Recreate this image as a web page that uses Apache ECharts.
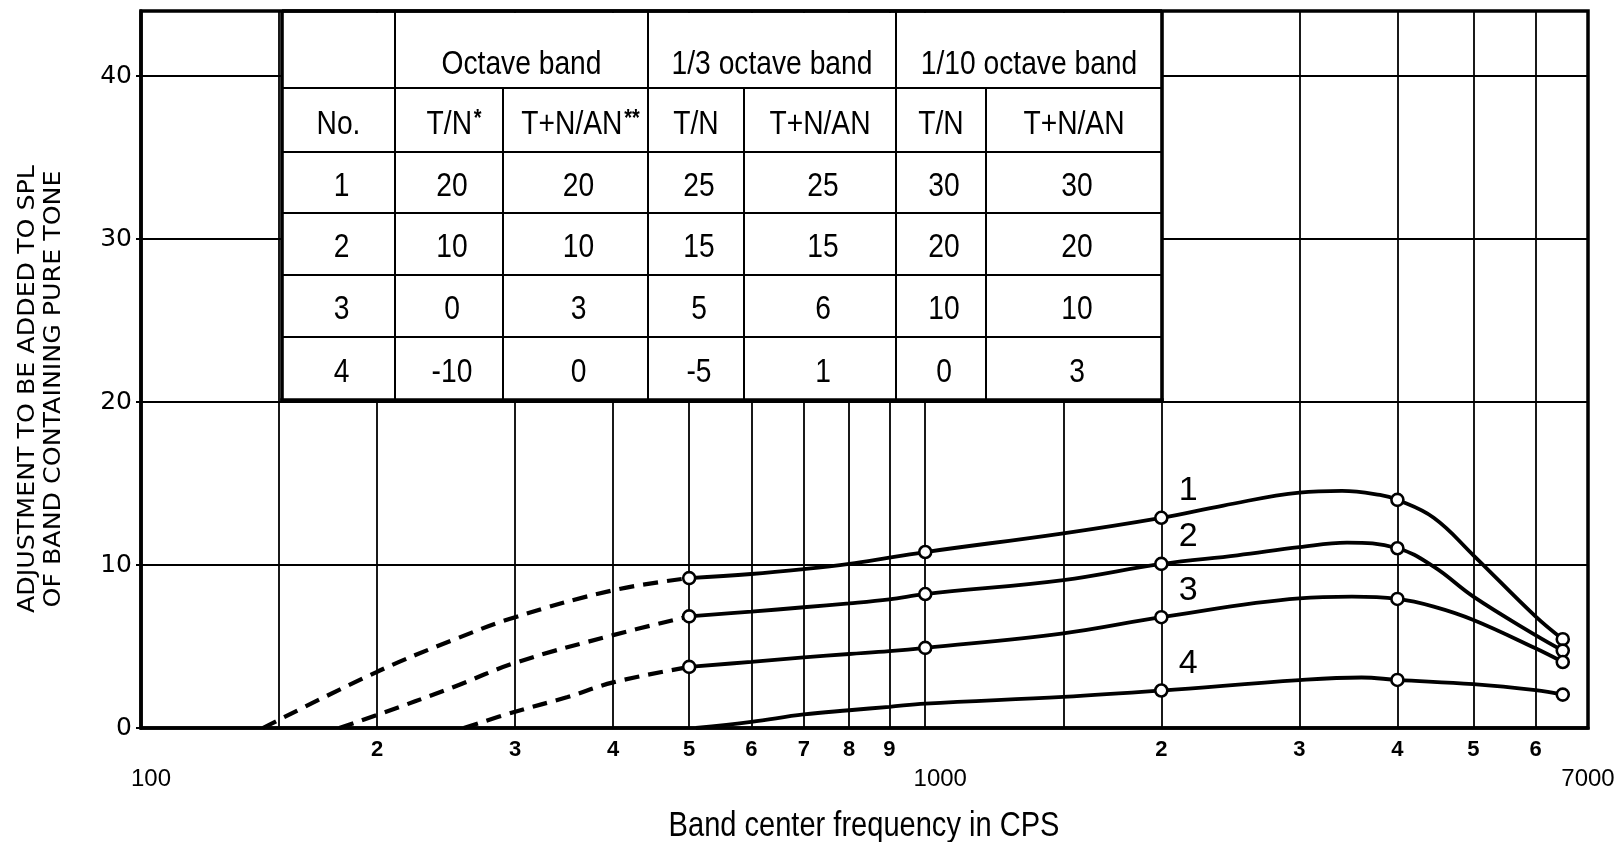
<!DOCTYPE html>
<html>
<head>
<meta charset="utf-8">
<script src="https://cdn.jsdelivr.net/npm/echarts@6/dist/echarts.min.js"></script>
<style>
  html, body { margin: 0; padding: 0; background: #fff; }
  #chart { width: 1616px; height: 842px; }
</style>
</head>
<body>
<div id="chart"></div>
<script>
// ---------- data ----------
// frequency grid (cps) and tick labels on the log axis
const gridFreqs = [150, 200, 300, 400, 500, 600, 700, 800, 900, 1000, 1500, 2000, 3000, 4000, 5000, 6000];
const minorTickFreqs = [200, 300, 400, 500, 600, 700, 800, 900, 2000, 3000, 4000, 5000, 6000];
const minorTickLabels = ['2', '3', '4', '5', '6', '7', '8', '9', '2', '3', '4', '5', '6'];
const decadeTickFreqs = [100, 1000, 7000];
const decadeTickLabels = ['100', '1000', '7000'];
const yTicks = [0, 10, 20, 30, 40];

// curve names and measured points (circles)
const curveNames = ['1', '2', '3', '4'];
const markerFreqs = [500, 1000, 2000, 4000, 6500];
const curve4MarkerFreqs = [2000, 4000, 6500];
const curve1Markers = [9.2, 10.8, 12.9, 14.0, 5.45];
const curve2Markers = [6.85, 8.22, 10.07, 11.03, 4.75];
const curve3Markers = [3.75, 4.92, 6.8, 7.92, 4.05];
const curve4Markers = [2.3, 2.95, 2.05];

// faired curves [frequency, adjustment dB]
const curve1Solid = [[500, 9.2], [600, 9.45], [700, 9.75], [800, 10.07], [900, 10.45], [1000, 10.8], [1500, 11.95], [2000, 12.9], [2400, 13.65], [3000, 14.45], [3400, 14.55], [3800, 14.3], [4000, 14.0], [4450, 12.9], [5000, 10.6], [6000, 6.85], [6500, 5.45]];
const curve2Solid = [[500, 6.85], [600, 7.14], [700, 7.41], [800, 7.65], [900, 7.9], [1000, 8.22], [1500, 9.08], [2000, 10.07], [2500, 10.6], [3000, 11.1], [3450, 11.38], [4000, 11.03], [4450, 9.9], [5000, 8.06], [6000, 5.7], [6500, 4.75]];
const curve3Solid = [[500, 3.75], [600, 4.06], [700, 4.33], [800, 4.54], [900, 4.72], [1000, 4.92], [1500, 5.81], [2000, 6.8], [3000, 7.96], [3500, 8.06], [4000, 7.92], [4450, 7.45], [5000, 6.63], [6000, 4.89], [6500, 4.05]];
const curve4Solid = [[510, 0], [600, 0.38], [700, 0.83], [800, 1.09], [900, 1.3], [1000, 1.5], [1500, 1.91], [2000, 2.3], [3000, 2.94], [3600, 3.1], [4000, 2.95], [5000, 2.69], [6000, 2.32], [6500, 2.05]];

// extrapolated (dashed) low-frequency portions
const curve1Dashed = [[143, 0], [200, 3.45], [250, 5.4], [300, 6.8], [400, 8.45], [500, 9.2]];
const curve2Dashed = [[179, 0], [200, 0.8], [250, 2.5], [300, 4.0], [400, 5.7], [500, 6.85]];
const curve3Dashed = [[258, 0], [300, 1.0], [350, 1.9], [400, 2.8], [500, 3.75]];

// inset table
const tableBands = ['Octave band', '1/3 octave band', '1/10 octave band'];
const tableHeads = ['No.', 'T/N', 'T+N/AN', 'T/N', 'T+N/AN', 'T/N', 'T+N/AN'];
const tableHeadMarks = ['', '*', '**', '', '', '', ''];
const tableRows = [
  ['1', '20', '20', '25', '25', '30', '30'],
  ['2', '10', '10', '15', '15', '20', '20'],
  ['3', '0', '3', '5', '6', '10', '10'],
  ['4', '-10', '0', '-5', '1', '0', '3']
];

// ---------- styling / layout ----------
const NARROW = "'Liberation Sans', 'Arimo', sans-serif";   // drawn with a horizontal squeeze
const SQUEEZE = 0.83;
const WIDE = "'DejaVu Sans', 'Noto Sans', sans-serif";
const INK = '#000';
const decadeNudge = [10, 15, 0];
const tableLayout = { left: 282, top: 11, colW: [113, 108, 145, 96, 152, 90, 176], rowH: [77, 64, 61, 62, 62, 63] };
const Z_TABLE = 30;

const chart = echarts.init(document.getElementById('chart'), null, { renderer: 'canvas' });

function curveLine(data, dashed) {
  return {
    type: 'line', data: data, smooth: 0.4, symbol: 'none', showSymbol: false, clip: false,
    silent: true, z: 3, animation: false,
    lineStyle: { color: '#000', width: dashed ? 4.2 : 3.8, type: dashed ? [15, 9] : 'solid', cap: 'butt', opacity: 1 },
    emphasis: { disabled: true }
  };
}

function markerSeries(name, freqs, vals) {
  return {
    type: 'scatter', name: name, z: 5, silent: true, clip: false, animation: false,
    symbol: 'circle', symbolSize: 12,
    itemStyle: { color: '#fff', borderColor: '#000', borderWidth: 2.6, opacity: 1 },
    data: freqs.map((f, i) => {
      const item = { value: [f, vals[i]] };
      if (f === 2000) {
        item.label = {
          show: true, position: 'inside', offset: [27, -27], formatter: name,
          fontFamily: NARROW, fontSize: 34, color: INK, opacity: 1, textBorderWidth: 0
        };
      }
      return item;
    }),
    emphasis: { disabled: true }
  };
}

function buildTable() {
  const T = tableLayout;
  const els = [];
  const colX = [T.left];
  T.colW.forEach(w => colX.push(colX[colX.length - 1] + w));
  const rowY = [T.top];
  T.rowH.forEach(h => rowY.push(rowY[rowY.length - 1] + h));
  const right = colX[colX.length - 1];
  const bottom = rowY[rowY.length - 1];

  els.push({ type: 'rect', z: Z_TABLE, shape: { x: T.left, y: T.top + 2, width: right - T.left, height: bottom - T.top - 2 }, style: { fill: '#fff' } });
  const line = (x1, y1, x2, y2, w) => els.push({ type: 'line', z: Z_TABLE + 1, shape: { x1, y1, x2, y2 }, style: { stroke: '#000', lineWidth: w } });

  // row rules
  for (let r = 1; r < rowY.length - 1; r++) line(T.left, rowY[r], right, rowY[r], 2);
  // band dividers run the full height, sub-column dividers start under the band row
  [1, 3, 5].forEach(c => line(colX[c], T.top, colX[c], bottom, 2));
  [2, 4, 6].forEach(c => line(colX[c], rowY[1], colX[c], bottom, 2));
  // heavy outer frame
  line(T.left, T.top, T.left, bottom + 1.75, 3.6);
  line(right, T.top, right, bottom + 1.75, 3.6);
  line(T.left - 1.75, bottom, right + 1.75, bottom, 3.6);
  line(T.left, T.top, right, T.top, 3.5);

  const text = (x, y, str) => els.push({
    type: 'text', z: Z_TABLE + 2, x: x, y: y, scaleX: SQUEEZE,
    style: { text: str, fontFamily: NARROW, fontSize: 34, fill: INK, align: 'center', verticalAlign: 'middle' }
  });

  // band titles
  const bandSpans = [[1, 3], [3, 5], [5, 7]];
  bandSpans.forEach((s, i) => text((colX[s[0]] + colX[s[1]]) / 2, rowY[0] + 54, tableBands[i]));

  // column heads (with footnote marks)
  tableHeads.forEach((h, c) => {
    const cx = (colX[c] + colX[c + 1]) / 2;
    const cy = (rowY[1] + rowY[2]) / 2 + 5;
    const mark = tableHeadMarks[c];
    els.push({
      type: 'text', z: Z_TABLE + 2, x: cx + (mark ? 5 : 0), y: cy, scaleX: SQUEEZE,
      style: {
        text: mark ? '{a|' + h + '}{s|' + mark + '}' : '{a|' + h + '}',
        align: 'center', verticalAlign: 'middle',
        rich: {
          a: { fontFamily: NARROW, fontSize: 34, fill: INK, color: INK },
          s: { fontFamily: NARROW, fontSize: 24, fontWeight: 'bold', fill: INK, color: INK, verticalAlign: 'top', padding: [0, 0, 12, 2] }
        }
      }
    });
  });

  // body
  tableRows.forEach((row, r) => {
    const cy = (rowY[r + 2] + rowY[r + 3]) / 2 + 4;
    row.forEach((v, c) => text((colX[c] + colX[c + 1]) / 2 + 3, cy, v));
  });

  return els;
}

const option = {
  animation: false,
  backgroundColor: '#fff',
  grid: {
    left: 141, right: 28, top: 11, bottom: 114,
    show: true, borderColor: '#000', borderWidth: 3.5, backgroundColor: '#fff',
    containLabel: false, outerBoundsMode: 'none'
  },
  xAxis: {
    type: 'log', logBase: 10, min: 100, max: 7000,
    axisLine: { show: true, lineStyle: { color: '#000', width: 3.5 } },
    axisTick: { show: false },
    axisLabel: { show: false },
    splitLine: { show: false }
  },
  yAxis: {
    type: 'value', min: 0, max: 44, interval: 10,
    axisLine: { show: true, lineStyle: { color: '#000', width: 3.5 } },
    axisTick: { show: true, length: 5, lineStyle: { color: '#000', width: 2 }, customValues: yTicks },
    axisLabel: {
      show: true, margin: 9, fontFamily: WIDE, fontSize: 25, color: INK,
      customValues: yTicks,
      formatter: v => (yTicks.indexOf(v) >= 0 ? String(v) : '')
    },
    splitLine: { show: true, lineStyle: { color: '#000', width: 1.8 } }
  },
  graphic: [
    {
      // two-line vertical axis title, stretched slightly along its reading direction
      type: 'text', x: 41, y: 389, rotation: Math.PI / 2, scaleX: 1.1, silent: true, z: 10,
      style: {
        text: 'ADJUSTMENT TO BE ADDED TO SPL\nOF BAND CONTAINING PURE TONE',
        fontFamily: WIDE, fontSize: 23, lineHeight: 26, fill: INK,
        align: 'center', verticalAlign: 'middle'
      }
    },
    {
      type: 'text', x: 864, y: 826, scaleX: SQUEEZE, silent: true, z: 10,
      style: {
        text: 'Band center frequency in CPS',
        fontFamily: NARROW, fontSize: 35, fill: INK,
        align: 'center', verticalAlign: 'middle'
      }
    }
  ].concat(buildTable()),
  series: [
    // frequency tick digits + vertical frequency rules
    {
      type: 'scatter', name: 'freqTicks', z: 2, silent: true, clip: false, animation: false,
      symbol: 'circle', symbolSize: 1, itemStyle: { color: 'rgba(0,0,0,0)', opacity: 1 },
      data: minorTickFreqs.map((f, i) => ({ value: [f, 0], name: minorTickLabels[i] })),
      label: {
        show: true, position: 'inside', offset: [0, 22], formatter: p => p.name,
        fontFamily: NARROW, fontSize: 22, fontWeight: 'bold', color: INK, opacity: 1, textBorderWidth: 0
      },
      markLine: {
        silent: true, symbol: ['none', 'none'], animation: false,
        label: { show: false },
        lineStyle: { color: '#000', width: 1.8, type: 'solid', opacity: 1 },
        emphasis: { disabled: true },
        data: gridFreqs.map(f => ({ xAxis: f }))
      }
    },
    {
      type: 'scatter', name: 'decadeTicks', z: 2, silent: true, clip: false, animation: false,
      symbol: 'circle', symbolSize: 1, itemStyle: { color: 'rgba(0,0,0,0)', opacity: 1 },
      data: decadeTickFreqs.map((f, i) => ({
        value: [f, 0], name: decadeTickLabels[i],
        label: { offset: [decadeNudge[i], 51] }
      })),
      label: {
        show: true, position: 'inside', formatter: p => p.name,
        fontFamily: NARROW, fontSize: 24, color: INK, opacity: 1, textBorderWidth: 0
      }
    },
    curveLine(curve1Dashed, true),
    curveLine(curve2Dashed, true),
    curveLine(curve3Dashed, true),
    curveLine(curve1Solid, false),
    curveLine(curve2Solid, false),
    curveLine(curve3Solid, false),
    curveLine(curve4Solid, false),
    markerSeries(curveNames[0], markerFreqs, curve1Markers),
    markerSeries(curveNames[1], markerFreqs, curve2Markers),
    markerSeries(curveNames[2], markerFreqs, curve3Markers),
    markerSeries(curveNames[3], curve4MarkerFreqs, curve4Markers)
  ]
};

chart.setOption(option);
</script>
</body>
</html>
